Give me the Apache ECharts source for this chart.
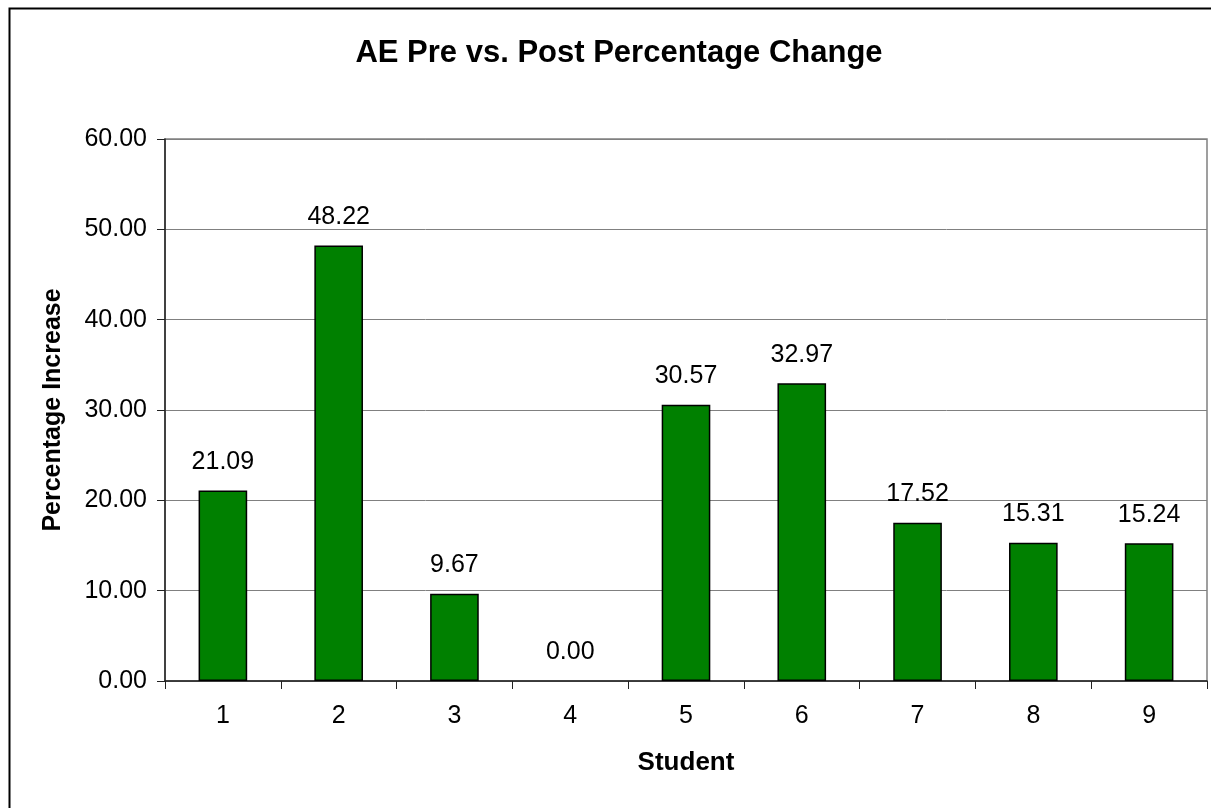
<!DOCTYPE html>
<html>
<head>
<meta charset="utf-8">
<title>AE Pre vs. Post Percentage Change</title>
<script src="https://cdn.jsdelivr.net/npm/echarts@6/dist/echarts.min.js"></script>
<style>
  html, body { margin: 0; padding: 0; background: #fff; }
  #chart { width: 1211px; height: 808px; }
</style>
</head>
<body>
<div id="chart"></div>
<script>
const students = ['1', '2', '3', '4', '5', '6', '7', '8', '9'];
const pctIncrease = [21.09, 48.22, 9.67, 0.00, 30.57, 32.97, 17.52, 15.31, 15.24];
const yTicks = { min: 0, max: 60, step: 10 };

const font = '"Liberation Sans", Arial, sans-serif';

const chart = echarts.init(document.getElementById('chart'));

// a zero-height bar shows no outline in the original
const barData = pctIncrease.map(v => v === 0 ? { value: v, itemStyle: { borderWidth: 0 } } : v);

chart.setOption({
    animation: false,
    backgroundColor: '#fff',
    textStyle: { fontFamily: font },
    title: {
        text: 'AE Pre vs. Post Percentage Change',
        left: 614,
        top: 33,
        textAlign: 'center',
        textStyle: { fontSize: 31, fontWeight: 'bold', color: '#000', fontFamily: font }
    },
    graphic: [{
        type: 'rect',
        left: 7,
        top: 6,
        shape: { width: 1220, height: 820 },
        style: { fill: 'none', stroke: '#000', lineWidth: 2 },
        silent: true
    }],
    grid: {
        left: 165,
        right: 4,
        top: 139,
        bottom: 127,
        show: true,
        borderColor: '#808080',
        borderWidth: 1.5
    },
    xAxis: {
        type: 'category',
        data: students,
        name: 'Student',
        nameLocation: 'middle',
        nameGap: 69,
        nameTextStyle: { fontSize: 26, fontWeight: 'bold', color: '#000', fontFamily: font },
        axisLine: { lineStyle: { color: '#222', width: 1.5 } },
        axisTick: { show: true, length: 8, lineStyle: { color: '#222' } },
        axisLabel: { fontSize: 25, color: '#000', margin: 23, fontFamily: font },
        splitLine: { show: false }
    },
    yAxis: {
        type: 'value',
        min: yTicks.min,
        max: yTicks.max,
        interval: yTicks.step,
        name: 'Percentage Increase',
        nameLocation: 'middle',
        nameGap: 99,
        nameTextStyle: { fontSize: 25, fontWeight: 'bold', color: '#000', fontFamily: font },
        axisLine: { show: true, lineStyle: { color: '#222', width: 1.5 } },
        axisTick: { show: true, length: 8, lineStyle: { color: '#222' } },
        axisLabel: {
            fontSize: 25,
            color: '#000',
            margin: 18,
            fontFamily: font,
            formatter: v => v.toFixed(2)
        },
        splitLine: { show: true, lineStyle: { color: '#808080', width: 1 } }
    },
    series: [{
        type: 'bar',
        data: barData,
        barWidth: '42%',
        itemStyle: { color: '#008000', borderColor: '#000', borderWidth: 1.5 },
        label: {
            show: true,
            position: 'top',
            distance: 16,
            fontSize: 25,
            color: '#000',
            fontFamily: font,
            formatter: p => p.value.toFixed(2)
        }
    }]
});

window.addEventListener('resize', () => chart.resize());
</script>
</body>
</html>
